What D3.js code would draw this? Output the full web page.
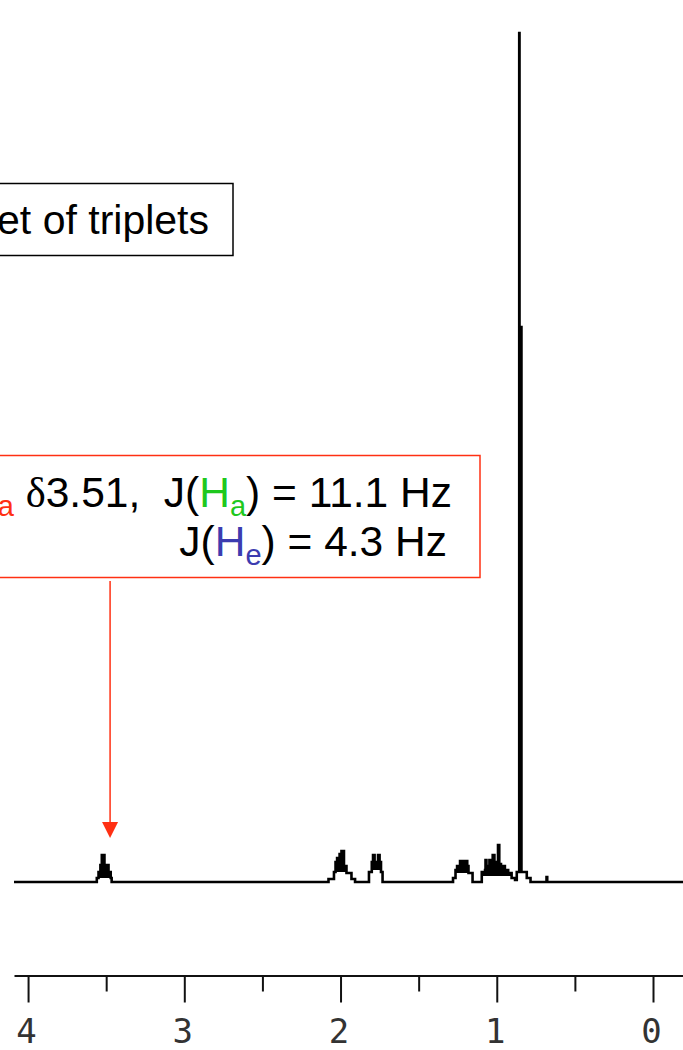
<!DOCTYPE html>
<html>
<head>
<meta charset="utf-8">
<script src="https://cdn.jsdelivr.net/npm/d3@7"></script>
<style>
  html, body { margin: 0; padding: 0; background: #fff; }
  svg { display: block; }
  .note { font-family: "Liberation Sans", Arial, sans-serif; white-space: pre; }
</style>
</head>
<body>
<svg id="chart" width="683" height="1050"></svg>
<script>
// 1H NMR trace: chemical shift (ppm) and signal intensity (arbitrary units),
// listed from left (downfield) to right (upfield), held as steps.
const shiftPpm = [
  4.09, 3.560, 3.549, 3.537, 3.528, 3.511, 3.485, 3.471, 3.465,
  2.077, 2.042, 2.032, 2.022, 2.006, 1.994, 1.978, 1.962, 1.930, 1.907,
  1.818, 1.800, 1.792, 1.782, 1.760, 1.750, 1.741, 1.731,
  1.280, 1.264, 1.254, 1.235, 1.189, 1.181, 1.155,
  1.096, 1.075, 1.072, 1.066, 1.054, 1.047, 1.040, 1.026, 1.015, 1.005,
  0.992, 0.984, 0.973, 0.960, 0.948, 0.927, 0.905, 0.883,
  0.872, 0.8563, 0.8544, 0.842, 0.808, 0.784, 0.6816, 0.677, -0.192
];
const intensity = [
  0, 4, 10, 17, 27, 17, 10, 4, 0,
  3, 10, 20, 24, 28, 31, 16, 9, 3, 0,
  10, 20, 27, 20, 27, 20, 10, 0,
  4, 12, 16, 21, 16, 9, 0,
  10, 12, 22, 14, 16, 22, 15, 27, 20, 18,
  37, 18, 14, 16, 12, 9, 4, 2,
  10, 849, 555, 10, 4, 0, 5, 0, 0
];

// Dense multiplet cores, drawn solid: start ppm, end ppm, lower intensity
const coreStart = [3.549, 2.032, 1.800, 1.264, 1.096];
const coreEnd   = [3.471, 1.962, 1.741, 1.181, 0.905];
const coreFloor = [4, 10, 12, 9, 6];

// Axis ticks (ppm)
const majorTicks = [4, 3, 2, 1, 0];
const minorTicks = [3.5, 2.5, 1.5, 0.5];

// Assignment for the marked signal
const markedShift = 3.475;

const svg = d3.select("#chart");
svg.append("rect").attr("width", 683).attr("height", 1050).attr("fill", "#fff");

const x = d3.scaleLinear().domain([4.09, -0.192]).range([14, 683]);
const y = d3.scaleLinear().domain([0, 849]).range([882, 33]);

const points = shiftPpm.map((p, i) => ({ p, v: intensity[i] }));

// Solid cores of the multiplets
coreStart.forEach((s, k) => {
  const seg = points.filter(d => d.p <= s + 1e-9 && d.p >= coreEnd[k] - 1e-9);
  const area = d3.area()
    .curve(d3.curveStepAfter)
    .x(d => x(d.p))
    .y0(y(coreFloor[k]))
    .y1(d => y(Math.max(d.v, coreFloor[k])));
  svg.append("path").attr("d", area(seg)).attr("fill", "#000");
});

// Spectrum trace
const line = d3.line().curve(d3.curveStepAfter).x(d => x(d.p)).y(d => y(d.v));
svg.append("path")
  .attr("d", line(points))
  .attr("fill", "none")
  .attr("stroke", "#000")
  .attr("stroke-width", 2.6)
  .attr("stroke-linejoin", "miter");

// ppm axis
const axisY = 975.5;
const majorAxis = d3.axisBottom(x).tickValues(majorTicks).tickSize(27).tickSizeOuter(0)
  .tickFormat(d3.format("d"));
const gMajor = svg.append("g").attr("transform", `translate(0,${axisY})`).call(majorAxis);
gMajor.select(".domain").attr("stroke", "#111").attr("stroke-width", 2.2);
gMajor.selectAll(".tick line").attr("stroke", "#111").attr("stroke-width", 2);
gMajor.selectAll(".tick text")
  .attr("y", 67).attr("dy", 0).attr("dx", -2)
  .attr("fill", "#333")
  .style("font-family", "'DejaVu Sans Mono', monospace")
  .style("font-size", "34px");

const minorAxis = d3.axisBottom(x).tickValues(minorTicks).tickSize(16).tickSizeOuter(0)
  .tickFormat("");
const gMinor = svg.append("g").attr("transform", `translate(0,${axisY})`).call(minorAxis);
gMinor.select(".domain").remove();
gMinor.selectAll(".tick line").attr("stroke", "#111").attr("stroke-width", 2);

// Multiplicity box
svg.append("rect")
  .attr("x", -4).attr("y", 183.5).attr("width", 237).attr("height", 72)
  .attr("fill", "#fff").attr("stroke", "#000").attr("stroke-width", 1.5);
svg.append("text").attr("class", "note")
  .attr("x", 209).attr("y", 234).attr("text-anchor", "end")
  .style("font-size", "41px").attr("fill", "#000")
  .text("Triplet of triplets");

// Shift / coupling box
const red = "#ff3013", green = "#1ec81e", blue = "#3c3cb0";
svg.append("rect")
  .attr("x", -4).attr("y", 455.5).attr("width", 484).attr("height", 122)
  .attr("fill", "#fff").attr("stroke", red).attr("stroke-width", 1.5);

const t1 = svg.append("text").attr("class", "note")
  .attr("x", 452).attr("y", 507).attr("text-anchor", "end")
  .style("font-size", "42.5px").attr("fill", "#000");
t1.append("tspan").attr("fill", red).text("H");
t1.append("tspan").attr("fill", red).attr("dy", 9).style("font-size", "29px").text("a");
t1.append("tspan").attr("dy", -9).text(" ");
t1.append("tspan").style("font-family", "'Liberation Serif', serif").text("δ");
t1.append("tspan").text("3.51,  J(");
t1.append("tspan").attr("fill", green).text("H");
t1.append("tspan").attr("fill", green).attr("dy", 9).style("font-size", "29px").text("a");
t1.append("tspan").attr("dy", -9).text(") = 11.1 Hz");

const t2 = svg.append("text").attr("class", "note")
  .attr("x", 447).attr("y", 556).attr("text-anchor", "end")
  .style("font-size", "42.5px").attr("fill", "#000");
t2.append("tspan").text("J(");
t2.append("tspan").attr("fill", blue).text("H");
t2.append("tspan").attr("fill", blue).attr("dy", 9).style("font-size", "29px").text("e");
t2.append("tspan").attr("dy", -9).text(") = 4.3 Hz");

// Arrow from the box down to the signal
const ax = x(markedShift);
svg.append("line")
  .attr("x1", ax).attr("x2", ax).attr("y1", 581).attr("y2", 826)
  .attr("stroke", red).attr("stroke-width", 1.5);
svg.append("path")
  .attr("d", `M${ax - 8},${822} L${ax + 8},${822} L${ax},${838} Z`)
  .attr("fill", red);
</script>
</body>
</html>
